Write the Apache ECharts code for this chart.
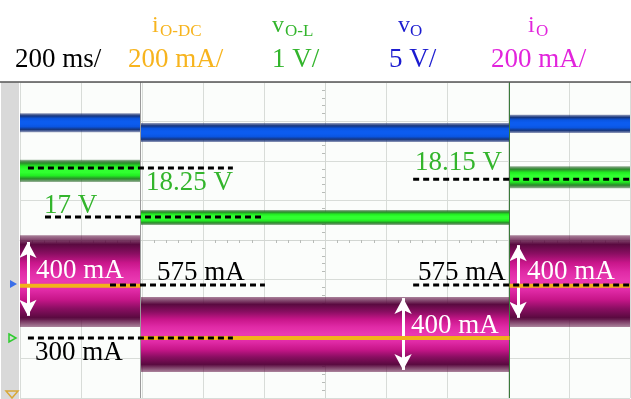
<!DOCTYPE html>
<html>
<head>
<meta charset="utf-8">
<script src="https://cdn.jsdelivr.net/npm/echarts@6/dist/echarts.min.js"></script>
<style>
  html, body { margin: 0; padding: 0; background: #fff; }
  #chart { width: 631px; height: 399px; }
</style>
</head>
<body>
<div id="chart"></div>
<script>
// time in ms relative to trigger (200 ms/div), levels in screen divisions
var segStart = [-1000, -605, 605];
var segEnd = [-605, 605, 1000];

var vOCenter = [2.97, 2.72, 2.94];
var vOHalf = [0.24, 0.24, 0.23];
var vOLCenter = [1.75, 0.57, 1.59];
var vOLHalf = [0.28, 0.19, 0.28];
var iOCenter = [-1.04, -2.39, -1.04];
var iOHalf = [1.16, 0.95, 1.16];
var iODcLevel = [-1.16, -2.48, -1.16];

// dashed reference lines
var refLevel = [1.82, 0.58, 1.54, -1.14, -1.14, -2.48];
var refStart = [-974, -918, 289, -705, 289, -974];
var refEnd = [-302, -203, 1000, -197, 1000, -302];

// 400 mA arrows
var arrowX = [-974, 256, 633];
var arrowTop = [-0.05, -1.47, -0.13];
var arrowBottom = [-1.92, -3.29, -1.97];

// cursor lines at the load steps
var cursorX = [-605, 605];

var SERIF = '"Liberation Serif", "DejaVu Serif", serif';

function bandData (start, end, center, half) {
  return start.map(function (s, i) { return [s, end[i], center[i], half[i]]; });
}

function vGrad (stops) {
  return new echarts.graphic.LinearGradient(0, 0, 0, 1, stops.map(function (c, i) {
    return { offset: i / (stops.length - 1), color: c };
  }));
}

function bandSeries (name, data, stops, z) {
  return {
    name: name,
    type: 'custom',
    z: z,
    encode: { x: [0, 1], y: 2 },
    data: data,
    renderItem: function (params, api) {
      var p0 = api.coord([api.value(0), api.value(2) + api.value(3)]);
      var p1 = api.coord([api.value(1), api.value(2) - api.value(3)]);
      return {
        type: 'rect',
        shape: { x: p0[0], y: p0[1], width: p1[0] - p0[0], height: p1[1] - p0[1] },
        style: { fill: vGrad(stops) }
      };
    }
  };
}

function lineSeg (i) {
  return {
    type: 'line',
    z: 8,
    symbol: 'none',
    silent: true,
    data: [[refStart[i], refLevel[i]], [refEnd[i], refLevel[i]]],
    lineStyle: { color: '#000', width: 3, type: [6, 4] }
  };
}

var series = [];
series.push(bandSeries('vO', bandData(segStart, segEnd, vOCenter, vOHalf),
  ['rgba(20,40,110,0.45)', '#15357e', '#0a55e0', '#0c5cef', '#0c5cef', '#0a55e0', '#15357e', 'rgba(20,40,110,0.45)'], 3));
series.push(bandSeries('vOL', bandData(segStart, segEnd, vOLCenter, vOLHalf),
  ['rgba(30,90,30,0.45)', '#2a8a2a', '#22ec22', '#30ff30', '#30ff30', '#22ec22', '#2a8a2a', 'rgba(30,90,30,0.45)'], 3));
series.push(bandSeries('iO', bandData(segStart, segEnd, iOCenter, iOHalf),
  ['rgba(90,10,60,0.5)', '#5a0a40', '#8a0e62', '#c8168a', '#e02aa6', '#ea3ab2', '#e02aa6', '#c8168a', '#8a0e62', '#5a0a40', 'rgba(90,10,60,0.5)'], 3));
series.push({
  name: 'iODC',
  type: 'custom',
  z: 5,
  encode: { x: [0, 1], y: 2 },
  data: segStart.map(function (s, i) { return [s, segEnd[i], iODcLevel[i]]; }),
  renderItem: function (params, api) {
    var p0 = api.coord([api.value(0), api.value(2)]);
    var p1 = api.coord([api.value(1), api.value(2)]);
    return {
      type: 'rect',
      shape: { x: p0[0], y: p0[1] - 2, width: p1[0] - p0[0], height: 4 },
      style: { fill: '#f2b21a' }
    };
  }
});
for (var i = 0; i < refLevel.length; i++) series.push(lineSeg(i));

series.push({
  type: 'line',
  z: 9,
  data: [],
  markLine: {
    silent: true,
    symbol: ['arrow', 'arrow'],
    symbolSize: [13, 16],
    label: { show: false },
    lineStyle: { color: '#fff', width: 3, type: 'solid' },
    data: arrowX.map(function (x, i) {
      return [{ coord: [x, arrowTop[i]] }, { coord: [x, arrowBottom[i]] }];
    })
  }
});
series.push({
  type: 'line',
  z: 2,
  data: [],
  markLine: {
    silent: true,
    symbol: 'none',
    label: { show: false },
    data: [
      { xAxis: cursorX[0], lineStyle: { color: '#9a9a9a', width: 1, type: 'solid' } },
      { xAxis: cursorX[1], lineStyle: { color: '#3a7a3a', width: 1, type: 'solid' } }
    ]
  }
});

function txt (x, y, s, color, size) {
  return {
    type: 'text', x: x, y: y, z: 100,
    style: { text: s, fill: color, font: (size || 27) + 'px ' + SERIF, textVerticalAlign: 'middle' }
  };
}

var graphics = [
  { type: 'rect', shape: { x: 1, y: 82, width: 18, height: 317 }, style: { fill: '#d9d9d9' }, z: -1 },
  { type: 'line', shape: { x1: 0, y1: 82, x2: 631, y2: 82 }, style: { stroke: '#555', lineWidth: 1.5 }, z: 50 },
  // channel markers on the left strip
  { type: 'polygon', shape: { points: [[10, 280], [17, 284], [10, 288]] }, style: { fill: '#3a6ee8' }, z: 50 },
  { type: 'polygon', shape: { points: [[9, 334], [16, 338], [9, 342]] }, style: { fill: 'none', stroke: '#2ecc2e', lineWidth: 1.5 }, z: 50 },
  { type: 'polygon', shape: { points: [[6, 391], [18, 391], [12, 398]] }, style: { fill: 'none', stroke: '#d8a838', lineWidth: 1.5 }, z: 50 },

  // header
  txt(15, 60, '200 ms/', '#000'),
  txt(152, 26, 'i', '#f7b41e', 24),
  txt(160, 32, 'O-DC', '#f7b41e', 17),
  txt(128, 60, '200 mA/', '#f7b41e'),
  txt(272, 26, 'v', '#33b52c', 24),
  txt(285, 32, 'O-L', '#33b52c', 17),
  txt(272, 60, '1 V/', '#33b52c'),
  txt(398, 26, 'v', '#1c1cd0', 24),
  txt(410, 32, 'O', '#1c1cd0', 17),
  txt(389, 60, '5 V/', '#1c1cd0'),
  txt(528, 26, 'i', '#e224dc', 24),
  txt(536, 32, 'O', '#e224dc', 17),
  txt(491, 60, '200 mA/', '#e224dc'),

  // annotations
  txt(146, 183, '18.25 V', '#33b52c'),
  txt(44, 206, '17 V', '#33b52c'),
  txt(415, 163, '18.15 V', '#33b52c'),
  txt(36, 271, '400 mA', '#fff'),
  txt(157, 273, '575 mA', '#000'),
  txt(35, 353, '300 mA', '#000'),
  txt(418, 273, '575 mA', '#000'),
  txt(527, 272, '400 mA', '#fff'),
  txt(411, 326, '400 mA', '#fff')
];

var chart = echarts.init(document.getElementById('chart'), null, { renderer: 'canvas' });
chart.setOption({
  animation: false,
  backgroundColor: '#ffffff',
  grid: { left: 20, right: 1, top: 82, bottom: 1, show: true, backgroundColor: '#fbfdfb', borderWidth: 0 },
  xAxis: {
    type: 'value', min: -1000, max: 1000, interval: 200,
    axisLine: { show: true, onZero: true, lineStyle: { color: '#d2d6d2' } },
    axisTick: { show: false },
    minorTick: { show: true, splitNumber: 5, length: 3, lineStyle: { color: '#b8bcb8' } },
    axisLabel: { show: false },
    splitLine: { show: true, lineStyle: { color: '#d8dcd8', width: 1 } }
  },
  yAxis: {
    type: 'value', min: -4, max: 4, interval: 1,
    axisLine: { show: true, onZero: true, lineStyle: { color: '#d2d6d2' } },
    axisTick: { show: false },
    minorTick: { show: true, splitNumber: 5, length: 3, lineStyle: { color: '#b8bcb8' } },
    axisLabel: { show: false },
    splitLine: { show: true, lineStyle: { color: '#d8dcd8', width: 1 } }
  },
  series: series,
  graphic: graphics
});
</script>
</body>
</html>
